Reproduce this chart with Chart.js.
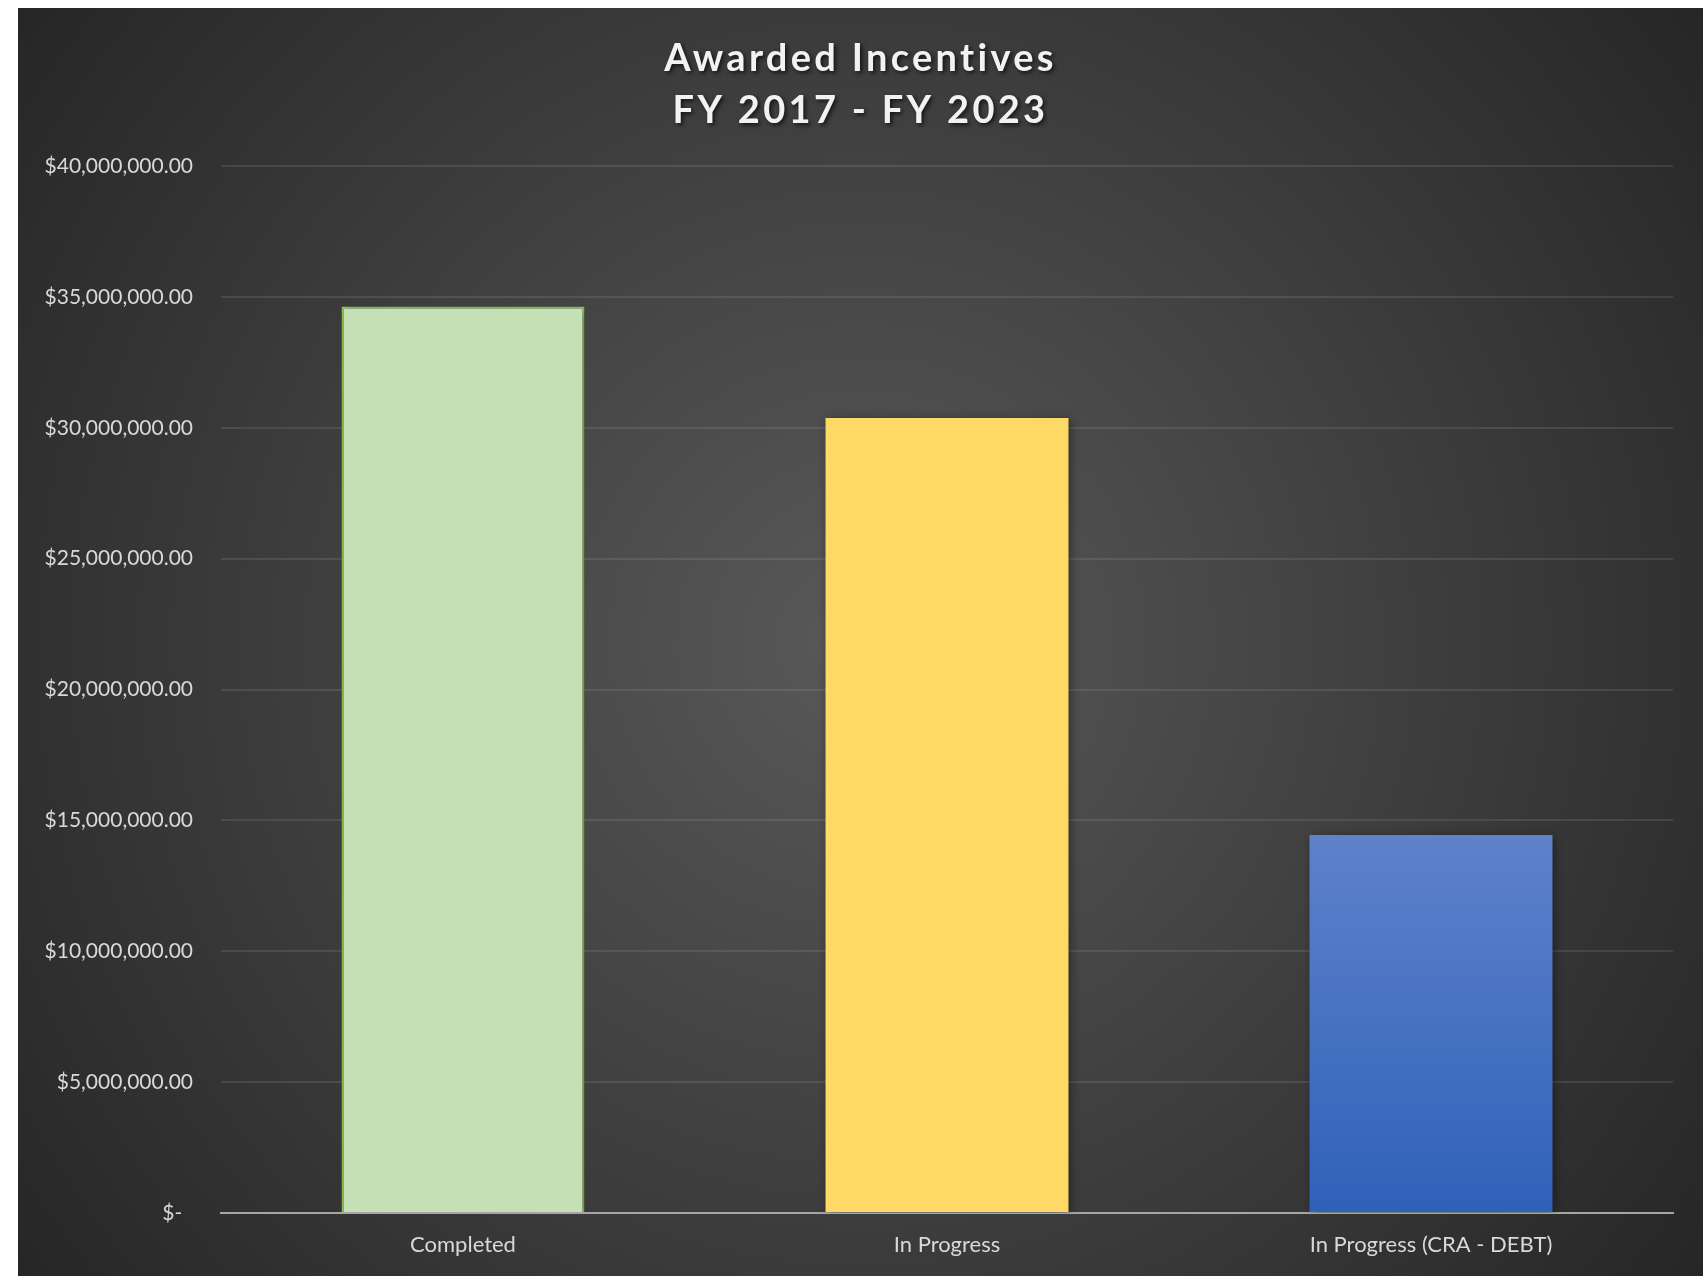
<!DOCTYPE html>
<html>
<head>
<meta charset="utf-8">
<script src="https://cdn.jsdelivr.net/npm/chart.js@4"></script>
<style>
  html, body { margin: 0; padding: 0; background: #ffffff; }
  body { width: 1706px; height: 1276px; position: relative; overflow: hidden; }
  #wrap { position: absolute; left: 18px; top: 8px; width: 1685px; height: 1268px; }
</style>
</head>
<body>
<div id="wrap"><canvas id="grafico"></canvas></div>
<script>
const categorias = ["Completed", "In Progress", "In Progress (CRA - DEBT)"];
const montos = [34630000, 30370000, 14440000];
const colores = ["#C5E0B4", "#FFD966", "#4472C4"];
const bordes = ["#92D050", "#FFD966", "#4472C4"];
const tituloLineas = ["Awarded Incentives", "FY 2017 - FY 2023"];
const ticksY = [0, 5000000, 10000000, 15000000, 20000000, 25000000, 30000000, 35000000, 40000000];
const ticksYTexto = ["$-  ", "$5,000,000.00", "$10,000,000.00", "$15,000,000.00", "$20,000,000.00",
  "$25,000,000.00", "$30,000,000.00", "$35,000,000.00", "$40,000,000.00"];

const fuente = "Lato, 'Open Sans', sans-serif";

// fondo con degradado radial
const fondo = {
  id: "fondo",
  beforeDraw(chart) {
    const { ctx, width, height } = chart;
    const g = ctx.createRadialGradient(width / 2, height / 2, 0, width / 2, height / 2, Math.hypot(width, height) / 2);
    g.addColorStop(0, "#595959");
    g.addColorStop(1, "#262626");
    ctx.save();
    ctx.fillStyle = g;
    ctx.fillRect(0, 0, width, height);
    ctx.restore();
  }
};

// sombra de las barras
const sombra = {
  id: "sombra",
  beforeDatasetsDraw(chart) {
    const ctx = chart.ctx;
    ctx.save();
    ctx.shadowColor = "rgba(0,0,0,0.45)";
    ctx.shadowBlur = 10;
    ctx.shadowOffsetX = 2;
    ctx.shadowOffsetY = 2;
  },
  afterDatasetsDraw(chart) {
    chart.ctx.restore();
  }
};

// titulo con sombra
const titulo = {
  id: "titulo",
  afterDraw(chart) {
    const ctx = chart.ctx;
    ctx.save();
    ctx.font = "bold 38px " + fuente;
    ctx.fillStyle = "#F2F2F2";
    ctx.textAlign = "center";
    ctx.textBaseline = "alphabetic";
    ctx.letterSpacing = "3.3px";
    ctx.shadowColor = "rgba(0,0,0,0.7)";
    ctx.shadowBlur = 4;
    ctx.shadowOffsetX = 2;
    ctx.shadowOffsetY = 2;
    const cx = chart.width / 2;
    ctx.fillText(tituloLineas[0], cx, 63);
    ctx.fillText(tituloLineas[1], cx, 115);
    ctx.restore();
  }
};

new Chart(document.getElementById("grafico"), {
  type: "bar",
  data: {
    labels: categorias,
    datasets: [{
      label: "Awarded Incentives",
      data: montos,
      backgroundColor: (c) => {
        const area = c.chart.chartArea;
        if (c.dataIndex === 2 && area) {
          const g = c.chart.ctx.createLinearGradient(0, c.chart.scales.y.getPixelForValue(montos[2]), 0, area.bottom);
          g.addColorStop(0, "#5E82CB");
          g.addColorStop(1, "#2F61B9");
          return g;
        }
        return colores[c.dataIndex];
      },
      borderColor: bordes,
      borderWidth: [2, 0, 0],
      categoryPercentage: 1,
      barPercentage: 0.502
    }]
  },
  options: {
    responsive: true,
    maintainAspectRatio: false,
    animation: false,
    layout: { padding: { left: 0, right: 30, top: 158, bottom: 4 } },
    plugins: {
      legend: { display: false },
      tooltip: { enabled: false }
    },
    scales: {
      x: {
        grid: { display: false, drawTicks: false },
        border: { display: true, color: "#A6A6A6", width: 2 },
        ticks: { color: "#D9D9D9", font: { family: fuente, size: 22 }, padding: 19 },
        afterFit(s) { s.height = 59; }
      },
      y: {
        min: 0,
        max: 40000000,
        afterBuildTicks(s) { s.ticks = ticksY.map(v => ({ value: v })); },
        grid: { color: "rgba(217,217,217,0.12)", lineWidth: 2, drawTicks: false },
        border: { display: false },
        ticks: {
          color: "#D9D9D9",
          font: { family: fuente, size: 21 },
          padding: 28,
          callback: (v) => ticksYTexto[ticksY.indexOf(v)]
        },
        afterFit(s) { s.width = 203; }
      }
    }
  },
  plugins: [fondo, sombra, titulo]
});
</script>
</body>
</html>
